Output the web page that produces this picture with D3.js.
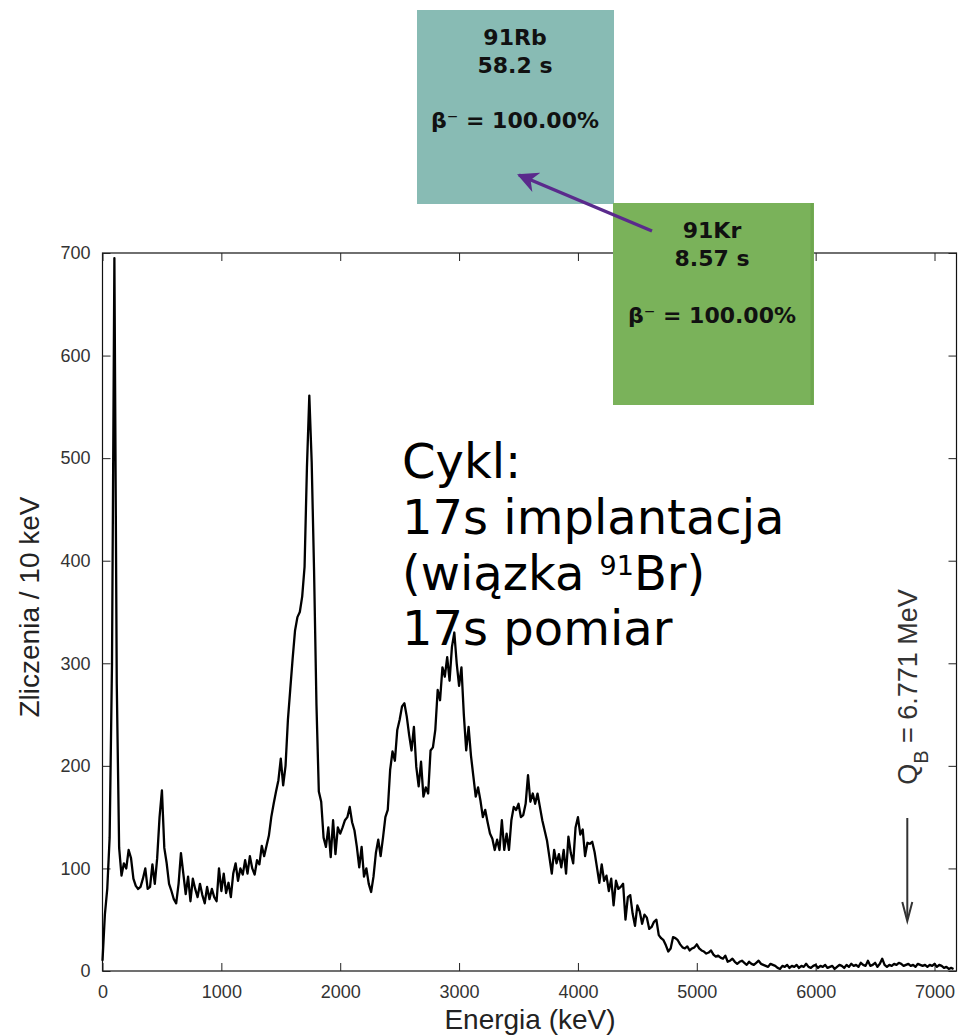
<!DOCTYPE html>
<html><head><meta charset="utf-8">
<script src="https://cdn.jsdelivr.net/npm/d3@7"></script>
<style>body{margin:0;background:#fff}svg{display:block}</style>
</head><body>
<svg id="c" width="958" height="1035"></svg>
<script>
// Spectrum: counts per 10 keV, sampled every 20 keV starting at 0 keV
const binStep = 20;
const counts = [
10,55,80,130,300,695,280,120,93,105,100,118,110,90,83,80,82,90,100,80,
82,104,85,110,150,176,120,105,85,78,70,66,85,115,95,75,92,68,90,80,
72,85,74,66,82,70,80,72,68,100,78,95,76,86,72,95,105,88,100,94,
108,95,112,100,94,108,104,122,112,122,132,150,163,175,186,207,181,200,245,275,
305,332,345,350,365,394,491,561,496,390,260,175,165,130,121,140,111,147,114,140,
134,140,147,150,160,145,137,121,101,121,92,100,85,77,92,115,128,112,130,150,
157,196,214,205,235,245,258,261,248,230,215,238,199,180,204,170,179,173,215,218,
235,274,264,296,287,306,283,316,330,300,278,296,250,215,238,210,190,170,179,166,
150,157,145,134,129,118,128,118,147,118,134,118,147,160,157,163,150,152,163,191,
165,173,163,173,160,147,137,127,111,95,118,105,114,101,118,95,131,115,105,140,
150,133,138,112,125,124,126,116,101,86,104,88,93,78,90,64,88,80,82,85,
50,72,74,56,44,64,58,46,55,52,41,43,48,50,35,32,30,25,19,22,
33,32,30,26,23,22,24,20,22,23,26,22,20,19,17,18,20,16,14,15,
13,12,15,9,10,12,9,7,9,10,8,6,9,7,6,8,10,7,6,5,
4,7,6,5,3,2,5,4,6,3,5,4,6,3,5,4,7,4,3,5,
6,3,5,4,6,3,4,5,2,4,6,5,3,6,4,7,5,6,4,8,
6,5,10,5,6,8,4,7,12,6,4,6,5,7,6,8,7,5,6,7,
5,6,4,7,6,5,6,4,6,5,7,4,6,5,3,4,2,3,2
];
const xTicks = [0,1000,2000,3000,4000,5000,6000,7000];
const yTicks = [0,100,200,300,400,500,600,700];
const xTitle = "Energia (keV)";
const yTitle = "Zliczenia / 10 keV";
const cycleLines = ["Cykl:", "17s implantacja", "(wiązka ", "17s pomiar"];
const rbLines = ["91Rb", "58.2 s", "β⁻ = 100.00%"];
const krLines = ["91Kr", "8.57 s", "β⁻ = 100.00%"];
const qValueMeV = 6.771;

const svg = d3.select("#c");
const L = 102.5, R = 956.5, T = 253, B = 971;
const x = d3.scaleLinear().domain([0, 7185]).range([L, R]);
const y = d3.scaleLinear().domain([0, 700]).range([B, T]);

// frame
svg.append("rect").attr("x", L).attr("y", T).attr("width", R - L).attr("height", B - T)
  .attr("fill", "none").attr("stroke", "#111").attr("stroke-width", 1.2);

const tickFont = "Liberation Sans, Arial, sans-serif";
const ax = svg.append("g").attr("transform", `translate(0,${B})`)
  .call(d3.axisBottom(x).tickValues(xTicks).tickSize(-8).tickPadding(14).tickFormat(d3.format("d")));
const axT = svg.append("g").attr("transform", `translate(0,${T})`)
  .call(d3.axisTop(x).tickValues(xTicks).tickSize(-8).tickFormat(""));
const ay = svg.append("g").attr("transform", `translate(${L},0)`)
  .call(d3.axisLeft(y).tickValues(yTicks).tickSize(-8).tickPadding(12).tickFormat(d3.format("d")));
const ayR = svg.append("g").attr("transform", `translate(${R},0)`)
  .call(d3.axisRight(y).tickValues(yTicks).tickSize(-8).tickFormat(""));
[ax, axT, ay, ayR].forEach(g => {
  g.select(".domain").remove();
  g.selectAll(".tick line").attr("stroke", "#222").attr("stroke-width", 1);
  g.selectAll(".tick text").attr("fill", "#333").style("font-family", tickFont).style("font-size", "18px");
});

// spectrum line
const line = d3.line().x((d, i) => x(i * binStep)).y(d => y(d));
svg.append("path").datum(counts).attr("d", line)
  .attr("fill", "none").attr("stroke", "#000").attr("stroke-width", 2.3).attr("stroke-linejoin", "round");

// axis titles
svg.append("text").attr("x", 530).attr("y", 1029).attr("text-anchor", "middle")
  .style("font-family", tickFont).style("font-size", "28px").attr("fill", "#222").text(xTitle);
svg.append("text").attr("transform", "translate(39,607) rotate(-90)").attr("text-anchor", "middle")
  .style("font-family", tickFont).style("font-size", "28px").attr("fill", "#222").text(yTitle);

// Q value label and arrow
const qx = x(qValueMeV * 1000);
const ql = svg.append("text").attr("transform", `translate(${qx + 10},687) rotate(-90)`).attr("text-anchor", "middle")
  .style("font-family", tickFont).style("font-size", "27px").attr("fill", "#333");
ql.append("tspan").text("Q");
ql.append("tspan").attr("baseline-shift", "sub").style("font-size", "20px").text("B");
ql.append("tspan").text(" = " + qValueMeV.toFixed(3) + " MeV");
svg.append("line").attr("x1", qx).attr("x2", qx).attr("y1", 818).attr("y2", 919)
  .attr("stroke", "#333").attr("stroke-width", 2);
svg.append("path").attr("d", `M${qx - 5},902 L${qx},921 L${qx + 5},902`)
  .attr("fill", "none").attr("stroke", "#333").attr("stroke-width", 2);

// big cycle text
const bigFont = "DejaVu Sans, sans-serif";
const ct = svg.append("text").style("font-family", bigFont).style("font-size", "48px").attr("fill", "#000");
ct.append("tspan").attr("x", 402).attr("y", 478).text(cycleLines[0]);
ct.append("tspan").attr("x", 402).attr("y", 534).text(cycleLines[1]);
ct.append("tspan").attr("x", 402).attr("y", 590).text(cycleLines[2]);
ct.append("tspan").attr("dy", -15).style("font-size", "27px").text("91");
ct.append("tspan").attr("dy", 15).text("Br)");
ct.append("tspan").attr("x", 402).attr("y", 645).text(cycleLines[3]);

// decay boxes
const boxFont = "DejaVu Sans, sans-serif";
function box(x0, y0, w, h, fill, lines, cx, bls) {
  svg.append("rect").attr("x", x0).attr("y", y0).attr("width", w).attr("height", h).attr("fill", fill);
  const t = svg.append("text").attr("text-anchor", "middle")
    .style("font-family", boxFont).style("font-weight", "700").style("font-size", "22px").attr("fill", "#111");
  lines.forEach((s, i) => t.append("tspan").attr("x", cx).attr("y", bls[i]).text(s));
}
box(417, 10, 197, 194, "#88bbb4", rbLines, 515, [45, 73, 128]);
box(613, 203, 201, 202, "#7ab25a", krLines, 712, [238, 266, 323]);
svg.append("line").attr("x1", 812).attr("x2", 812).attr("y1", 203).attr("y2", 405)
  .attr("stroke", "#6ea64f").attr("stroke-width", 3);

// decay arrow
svg.append("defs").append("marker").attr("id", "ah").attr("viewBox", "0 0 10 10")
  .attr("refX", 9).attr("refY", 5).attr("markerWidth", 6).attr("markerHeight", 6)
  .attr("markerUnits", "strokeWidth").attr("orient", "auto")
  .append("path").attr("d", "M0,0 L10,5 L0,10 L3,5 Z").attr("fill", "#5a2a8c");
svg.append("line").attr("x1", 652).attr("y1", 231).attr("x2", 519).attr("y2", 175)
  .attr("stroke", "#5a2a8c").attr("stroke-width", 3.5).attr("marker-end", "url(#ah)");
</script>
</body></html>
